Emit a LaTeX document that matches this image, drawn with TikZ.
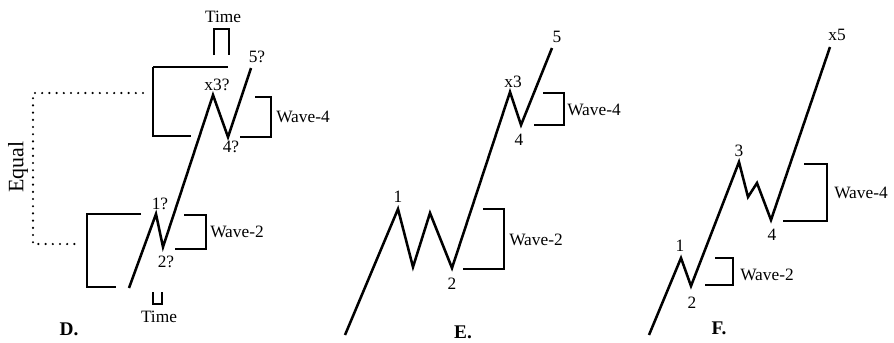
\documentclass[tikz,border=0pt]{standalone}
\usepackage{fontspec}
\setmainfont{Liberation Serif}

\begin{document}
\begin{tikzpicture}[x=0.75pt,y=-0.75pt,
    wave/.style={line width=1.9pt,line join=miter},
    brk/.style={line width=1.1pt},
    eqline/.style={line width=1.8pt,line cap=round,dash pattern=on 0pt off 5.4pt},
    lbl/.style={font=\fontsize{13}{15}\selectfont,inner sep=0pt},
    tag/.style={font=\fontsize{14.5}{16}\selectfont\bfseries,inner sep=0pt}]
  \useasboundingbox (0,0) rectangle (894,343);

  % D. -- wave 3 and wave 1 compared
  \coordinate (d0) at (129,288);
  \coordinate (d1) at (156,214);
  \coordinate (d2) at (163,247);
  \coordinate (d3) at (213,95);
  \coordinate (d4) at (228,137);
  \coordinate (d5) at (251,68);
  \draw[wave] (d0) -- (d1) -- (d2) -- (d3) -- (d4) -- (d5);
  \node[lbl] (d1l) at (160,204) {1?};
  \node[lbl] (d2l) at (166,262) {2?};
  \node[lbl] (d3l) at (217,85) {x3?};
  \node[lbl] (d4l) at (231,147) {4?};
  \node[lbl] (d5l) at (257,57) {5?};
  \draw[brk] (141,214) -- (87,214) -- (87,287) -- (116,287);
  \draw[brk] (153,67) -- (228,67);
  \draw[brk] (153,67) -- (153,136) -- (191,136);
  \draw[brk] (184,215) -- (206,215) -- (206,249) -- (175,249);
  \draw[brk] (255,97) -- (271,97) -- (271,137) -- (240,137);
  \node[lbl,anchor=west] (dw2) at (210,232) {Wave-2};
  \node[lbl,anchor=west] (dw4) at (276,117) {Wave-4};
  \draw[brk] (153,292) -- (153,304) -- (162,304) -- (162,292);
  \node[lbl] (dt1) at (159,317) {Time};
  \draw[brk] (214,55) -- (214,29) -- (229,29) -- (229,55);
  \node[lbl] (dt2) at (223,17) {Time};
  \draw[eqline] (143,93) -- (33,93) -- (33,244) -- (78,244);
  \node[lbl,font=\fontsize{16.5}{18}\selectfont,rotate=90] (equal) at (18,167) {Equal};
  \node[tag] (dtag) at (69,329) {D.};

  % E. -- extended wave 2
  \coordinate (e0) at (345,335);
  \coordinate (e1) at (398,209);
  \coordinate (ea) at (413,267);
  \coordinate (eb) at (430,213);
  \coordinate (e2) at (452,268);
  \coordinate (e3) at (510,92);
  \coordinate (e4) at (521,125);
  \coordinate (e5) at (552,48);
  \draw[wave] (e0) -- (e1) -- (ea) -- (eb) -- (e2) -- (e3) -- (e4) -- (e5);
  \node[lbl] (e1l) at (398,197) {1};
  \node[lbl] (e2l) at (452,284) {2};
  \node[lbl] (e3l) at (513,82) {x3};
  \node[lbl] (e4l) at (519,140) {4};
  \node[lbl] (e5l) at (557,37) {5};
  \draw[brk] (483,209) -- (504,209) -- (504,269) -- (463,269);
  \draw[brk] (543,93) -- (564,93) -- (564,125) -- (534,125);
  \node[lbl,anchor=west] (ew2) at (509,240) {Wave-2};
  \node[lbl,anchor=west] (ew4) at (567,110) {Wave-4};
  \node[tag] (etag) at (463,332) {E.};

  % F. -- complex wave 4
  \coordinate (f0) at (649,335);
  \coordinate (f1) at (681,258);
  \coordinate (f2) at (691,286);
  \coordinate (f3) at (739,162);
  \coordinate (fa) at (748,197);
  \coordinate (fb) at (757,183);
  \coordinate (f4) at (771,220);
  \coordinate (f5) at (830,47);
  \draw[wave] (f0) -- (f1) -- (f2) -- (f3) -- (fa) -- (fb) -- (f4) -- (f5);
  \node[lbl] (f1l) at (680,246) {1};
  \node[lbl] (f2l) at (692,303) {2};
  \node[lbl] (f3l) at (739,151) {3};
  \node[lbl] (f4l) at (772,235) {4};
  \node[lbl] (f5l) at (837,35) {x5};
  \draw[brk] (715,258) -- (733,258) -- (733,285) -- (705,285);
  \draw[brk] (804,164) -- (827,164) -- (827,221) -- (783,221);
  \node[lbl,anchor=west] (fw2) at (740,275) {Wave-2};
  \node[lbl,anchor=west] (fw4) at (834,193) {Wave-4};
  \node[tag] (ftag) at (719,328) {F.};
\end{tikzpicture}
\end{document}
